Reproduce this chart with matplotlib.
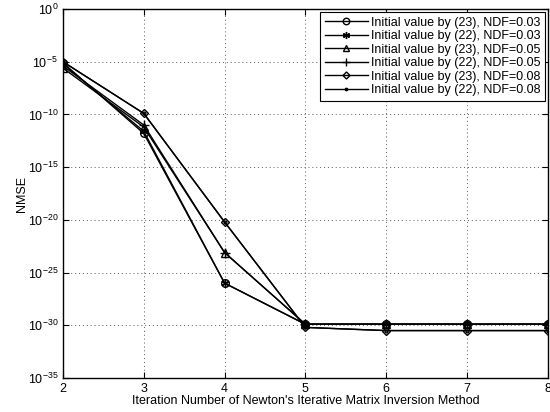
import numpy as np
import matplotlib
matplotlib.use("Agg")
import matplotlib.pyplot as plt

# iterations and log10(NMSE)
iters = [2, 3, 4, 5, 6, 7, 8]
nmse_23_003 = [-5.1, -11.8, -26.0, -29.9, -29.9, -29.9, -29.9]
nmse_22_003 = [-5.2, -11.6, -26.0, -29.9, -29.9, -29.9, -29.9]
nmse_23_005 = [-5.6, -11.2, -23.1, -29.9, -29.9, -29.9, -29.9]
nmse_22_005 = [-5.4, -11.0, -23.1, -29.9, -29.9, -29.9, -29.9]
nmse_23_008 = [-5.0, -9.9, -20.2, -30.2, -30.5, -30.5, -30.5]
nmse_22_008 = [-5.0, -9.9, -20.2, -30.2, -30.5, -30.5, -30.5]

series = [
    (nmse_23_003, 'o', 5.5, 'Initial value by (23), NDF=0.03'),
    (nmse_22_003, (6, 2, 0), 6, 'Initial value by (22), NDF=0.03'),
    (nmse_23_005, '^', 5.5, 'Initial value by (23), NDF=0.05'),
    (nmse_22_005, '+', 7, 'Initial value by (22), NDF=0.05'),
    (nmse_23_008, 'D', 4.2, 'Initial value by (23), NDF=0.08'),
    (nmse_22_008, '.', 4, 'Initial value by (22), NDF=0.08'),
]

plt.rcParams['font.family'] = ['Liberation Sans', 'DejaVu Sans']

fig = plt.figure(figsize=(5.5, 4.12), dpi=100)
ax = fig.add_axes([0.1145, 0.0825, 0.8815, 0.8955])

for vals, mk, ms, lab in series:
    ax.semilogy(iters, 10.0 ** np.array(vals), 'k-', marker=mk, mfc='none',
                mec='k', ms=ms, lw=1.0, label=lab)

ax.set_xlim(2, 8)
ax.set_ylim(1e-35, 1e0)
ax.set_yticks([10.0 ** e for e in range(-35, 1, 5)])
ax.yaxis.set_minor_locator(matplotlib.ticker.NullLocator())
ax.set_xticks(iters)
ax.tick_params(direction='in', top=True, right=True, labelsize=9, length=4)
ax.grid(True, linestyle=(0, (1, 3)), color='0.35', lw=0.7)
for s in ax.spines.values():
    s.set_linewidth(1.0)

ax.set_xlabel("Iteration Number of Newton's Iterative Matrix Inversion Method",
              fontsize=9, labelpad=0)
ax.set_ylabel('NMSE', fontsize=9, labelpad=0)

leg = ax.legend(loc='upper right', fontsize=9, frameon=True, fancybox=False,
                edgecolor='k', framealpha=1, borderpad=0.4, labelspacing=0.12,
                handlelength=3.4, handletextpad=0.25, borderaxespad=0.2,
                markerscale=0.85)
leg.get_frame().set_linewidth(0.8)

plt.savefig("out.png")
plt.close()
